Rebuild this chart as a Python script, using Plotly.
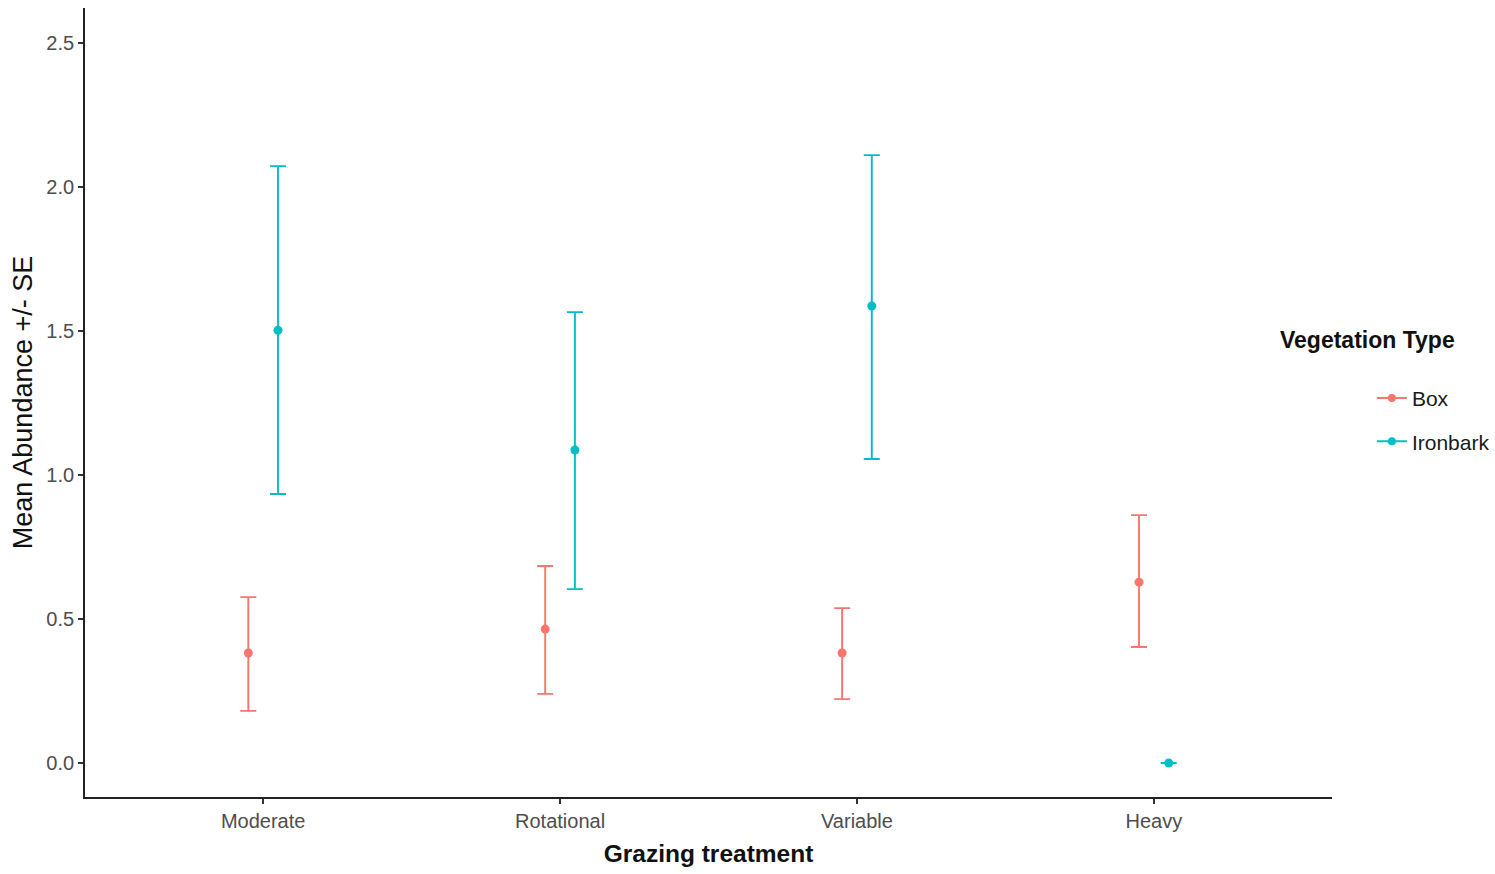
import plotly.graph_objects as go

# Grazing treatments along the x axis
treatments = ["Moderate", "Rotational", "Variable", "Heavy"]

# Mean abundance and standard error bounds per vegetation type
box_mean = [0.382, 0.465, 0.382, 0.628]
box_upper = [0.576, 0.684, 0.538, 0.861]
box_lower = [0.181, 0.240, 0.222, 0.403]

ironbark_mean = [1.503, 1.087, 1.587, 0.0]
ironbark_upper = [2.073, 1.566, 2.111, 0.0]
ironbark_lower = [0.934, 0.604, 1.056, 0.0]

y_ticks = [0.0, 0.5, 1.0, 1.5, 2.0, 2.5]

BOX_COLOR = "#F8766D"
IRONBARK_COLOR = "#00BFC4"
DODGE = 0.05

x_pos = list(range(len(treatments)))

fig = go.Figure()


def add_series(name, means, upper, lower, color, offset):
    xs = [x + offset for x in x_pos]
    fig.add_trace(go.Scatter(
        x=xs, y=means, mode="markers", name=name, showlegend=False,
        marker=dict(color=color, size=9),
        error_y=dict(
            type="data", symmetric=False,
            array=[u - m for u, m in zip(upper, means)],
            arrayminus=[m - l for m, l in zip(means, lower)],
            color=color, thickness=1.9, width=8,
        ),
    ))
    # legend key: line with a dot
    fig.add_trace(go.Scatter(
        x=[None], y=[None], mode="lines+markers", name=name,
        legendgroup=name,
        line=dict(color=color, width=1.9),
        marker=dict(color=color, size=8),
    ))


add_series("Box", box_mean, box_upper, box_lower, BOX_COLOR, -DODGE)
add_series("Ironbark", ironbark_mean, ironbark_upper, ironbark_lower, IRONBARK_COLOR, DODGE)

tick_font = dict(family="Liberation Sans Narrow, Arial Narrow, sans-serif", size=20, color="#4d4d4d")

fig.update_layout(
    width=1495, height=874,
    margin=dict(l=85, r=163, t=8, b=77, autoexpand=False),
    paper_bgcolor="white", plot_bgcolor="white",
    showlegend=True,
    legend=dict(
        x=1.032, y=0.478, xanchor="left", yanchor="middle",
        font=dict(family="Liberation Sans Narrow, Arial Narrow, sans-serif", size=21, color="#1a1a1a"),
        tracegroupgap=13, itemwidth=30,
        bgcolor="rgba(0,0,0,0)",
    ),
    xaxis=dict(
        range=[-0.6, 3.6], tickvals=x_pos, ticktext=treatments,
        showline=True, linecolor="#222222", linewidth=1.8,
        ticks="outside", ticklen=5, tickwidth=1.5, tickcolor="#333333",
        showgrid=False, zeroline=False, tickfont=tick_font,
        title=dict(text="<b>Grazing treatment</b>", standoff=14,
                   font=dict(family="Liberation Sans, Arial, sans-serif", size=24.5, color="#111111")),
    ),
    yaxis=dict(
        range=[-0.118, 2.622], tickvals=y_ticks,
        ticktext=[f"{v:.1f}" for v in y_ticks],
        showline=True, linecolor="#222222", linewidth=1.8,
        ticks="outside", ticklen=5, tickwidth=1.5, tickcolor="#333333",
        showgrid=False, zeroline=False, tickfont=tick_font,
        title=dict(text="Mean Abundance +/- SE", standoff=6,
                   font=dict(family="Liberation Sans, Arial, sans-serif", size=27, color="#111111")),
    ),
    annotations=[dict(
        text="<b>Vegetation Type</b>", xref="paper", yref="paper",
        x=(1367 - 85) / 1247, y=(797 - 340) / 789, xanchor="center", yanchor="middle",
        showarrow=False,
        font=dict(family="Liberation Sans, Arial, sans-serif", size=23, color="#111111"),
    )],
)

fig.write_html("out.html")
